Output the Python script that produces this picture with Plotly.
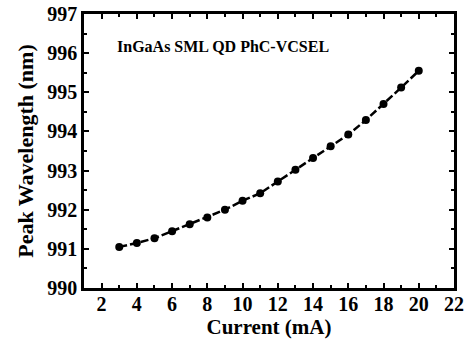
import plotly.graph_objects as go

current = [3, 4, 5, 6, 7, 8, 9, 10, 11, 12, 13, 14, 15, 16, 17, 18, 19, 20]
wavelength = [991.05, 991.15, 991.27, 991.45, 991.63, 991.80, 992.00, 992.23, 992.42,
              992.72, 993.02, 993.32, 993.62, 993.92, 994.29, 994.70, 995.12, 995.55]
x_ticks = [2, 4, 6, 8, 10, 12, 14, 16, 18, 20, 22]
y_ticks = [990, 991, 992, 993, 994, 995, 996, 997]

font = "Liberation Serif"

fig = go.Figure()
fig.add_trace(go.Scatter(
    x=current, y=wavelength, mode="lines+markers",
    line=dict(color="black", width=2.5, dash="8px,3px"),
    marker=dict(color="black", size=8, symbol="circle"),
    showlegend=False,
))

axis_common = dict(
    showline=True, linecolor="black", linewidth=2.5, mirror="allticks",
    ticks="inside", ticklen=5, tickwidth=2, tickcolor="black",
    showgrid=False, zeroline=False, automargin=False,
    tickfont=dict(family=font, size=20, color="black", weight="bold"),
)

fig.update_xaxes(
    range=[1, 22], tickvals=x_ticks, ticktext=[str(v) for v in x_ticks],
    minor=dict(dtick=1, tick0=1, ticks="inside", ticklen=3, tickwidth=2, tickcolor="black"),
    ticklabelstandoff=-4,
    title=dict(text="<b>Current (mA)</b>", font=dict(family=font, size=21, color="black"), standoff=2),
    **axis_common,
)
fig.update_yaxes(
    range=[990, 997], tickvals=y_ticks, ticktext=[str(v) for v in y_ticks],
    minor=dict(dtick=0.5, tick0=990, ticks="inside", ticklen=3, tickwidth=2, tickcolor="black"),
    title=dict(text="<b>Peak Wavelength (nm)</b>", font=dict(family=font, size=22, color="black"), standoff=8),
    **axis_common,
)

fig.add_annotation(
    text="<b>InGaAs SML QD PhC-VCSEL</b>", xref="paper", yref="paper",
    x=0.084, y=0.88, xanchor="left", yanchor="middle", showarrow=False,
    font=dict(family=font, size=16, color="black"),
)

fig.update_layout(
    width=467, height=344,
    margin=dict(l=84, r=13, t=14, b=56),
    plot_bgcolor="white", paper_bgcolor="white",
)

fig.write_html("out.html", config={"displayModeBar": False},
               post_script="document.body.style.margin='0';document.body.style.overflow='hidden';")
